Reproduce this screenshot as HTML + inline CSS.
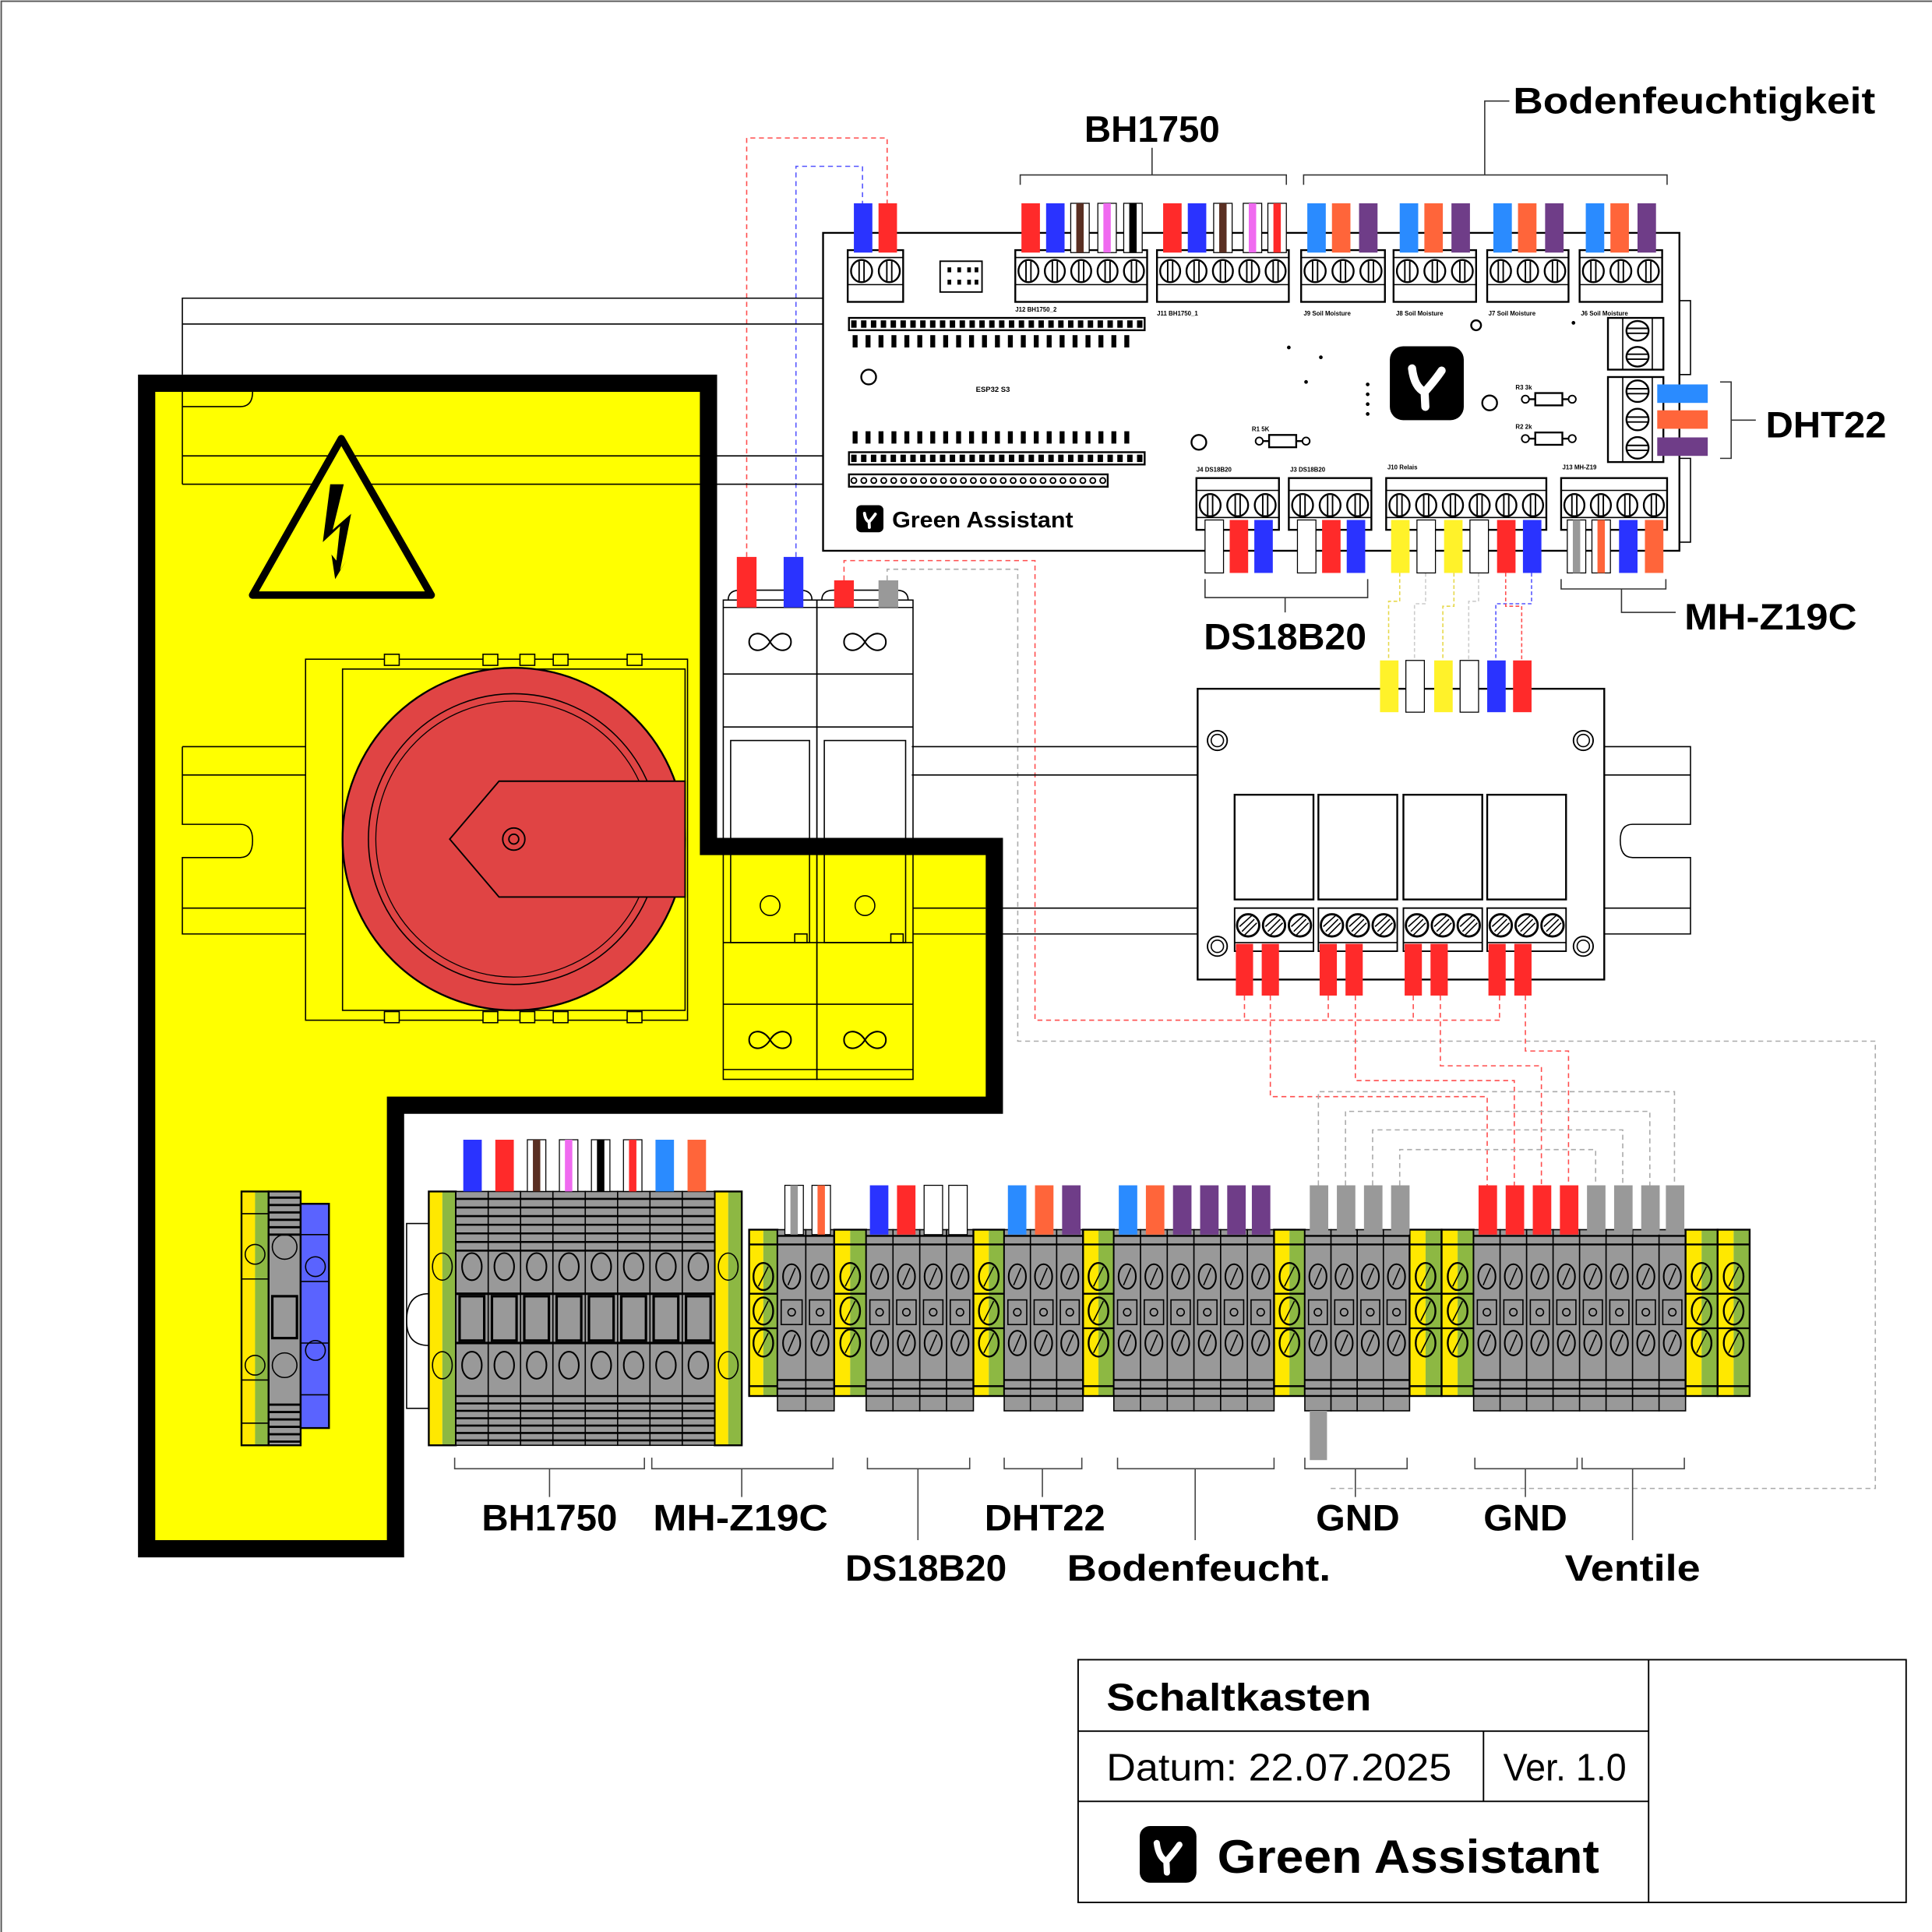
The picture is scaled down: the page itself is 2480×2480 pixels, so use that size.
<!DOCTYPE html>
<html><head><meta charset="utf-8"><style>
html,body{margin:0;padding:0;background:#fff}
svg{display:block}
text{font-family:"Liberation Sans",sans-serif;font-weight:bold;fill:#000}
</style></head><body>
<svg id="s" width="2480" height="2480" viewBox="0 0 1568 1568" xmlns="http://www.w3.org/2000/svg">
<rect x="0" y="0" width="1568" height="1568" fill="#fff"/>
<path d="M1 1568V1H1568" fill="none" stroke="#555" stroke-width="1.2"/>
<g id="g"></g>
<g id="labels">
<text x="880" y="115" font-size="30" textLength="110" lengthAdjust="spacingAndGlyphs">BH1750</text>
<text x="1228" y="92" font-size="30" textLength="294" lengthAdjust="spacingAndGlyphs">Bodenfeuchtigkeit</text>
<text x="1433" y="355" font-size="30" textLength="98" lengthAdjust="spacingAndGlyphs">DHT22</text>
<text x="977" y="527" font-size="30" textLength="132" lengthAdjust="spacingAndGlyphs">DS18B20</text>
<text x="1367" y="511" font-size="30" textLength="140" lengthAdjust="spacingAndGlyphs">MH-Z19C</text>
<text x="391" y="1242" font-size="30" textLength="110" lengthAdjust="spacingAndGlyphs">BH1750</text>
<text x="530" y="1242" font-size="30" textLength="142" lengthAdjust="spacingAndGlyphs">MH-Z19C</text>
<text x="686" y="1283" font-size="30" textLength="131" lengthAdjust="spacingAndGlyphs">DS18B20</text>
<text x="799" y="1242" font-size="30" textLength="98" lengthAdjust="spacingAndGlyphs">DHT22</text>
<text x="866" y="1283" font-size="30" textLength="214" lengthAdjust="spacingAndGlyphs">Bodenfeucht.</text>
<text x="1068" y="1242" font-size="30" textLength="68" lengthAdjust="spacingAndGlyphs">GND</text>
<text x="1204" y="1242" font-size="30" textLength="68" lengthAdjust="spacingAndGlyphs">GND</text>
<text x="1270" y="1283" font-size="30" textLength="110" lengthAdjust="spacingAndGlyphs">Ventile</text>
<text x="898" y="1388" font-size="31" textLength="215" lengthAdjust="spacingAndGlyphs">Schaltkasten</text>
<text x="898" y="1445" font-size="31" style="font-weight:normal" textLength="280" lengthAdjust="spacingAndGlyphs">Datum: 22.07.2025</text>
<text x="1220" y="1445" font-size="31" style="font-weight:normal" textLength="100" lengthAdjust="spacingAndGlyphs">Ver. 1.0</text>
<text x="988" y="1520" font-size="38" textLength="310" lengthAdjust="spacingAndGlyphs">Green Assistant</text>
<text x="724" y="428" font-size="18" textLength="147" lengthAdjust="spacingAndGlyphs">Green Assistant</text>
<text x="792" y="318" font-size="6">ESP32 S3</text>
<text x="824" y="253" font-size="5">J12  BH1750_2</text>
<text x="939" y="256" font-size="5">J11  BH1750_1</text>
<text x="1058" y="256" font-size="5">J9  Soil Moisture</text>
<text x="1133" y="256" font-size="5">J8  Soil Moisture</text>
<text x="1208" y="256" font-size="5">J7  Soil Moisture</text>
<text x="1283" y="256" font-size="5">J6  Soil Moisture</text>
<text x="971" y="383" font-size="5">J4  DS18B20</text>
<text x="1047" y="383" font-size="5">J3  DS18B20</text>
<text x="1126" y="381" font-size="5">J10  Relais</text>
<text x="1268" y="381" font-size="5">J13  MH-Z19</text>
<text x="1016" y="350" font-size="5">R1  5K</text>
<text x="1230" y="316" font-size="5">R3  3k</text>
<text x="1230" y="348" font-size="5">R2  2k</text>
</g>
</svg>
<script>
var o=[];
function R(x,y,w,h,f,s,sw,extra){o.push('<rect x="'+x+'" y="'+y+'" width="'+w+'" height="'+h+'" fill="'+(f||'none')+'" stroke="'+(s||'none')+'" stroke-width="'+(sw||1)+'" '+(extra||'')+'/>');}
function L(p,s,sw,da){o.push('<path d="'+p+'" fill="none" stroke="'+(s||'#000')+'" stroke-width="'+(sw||1)+'"'+(da?' stroke-dasharray="'+da+'"':'')+'/>');}
function C(x,y,r,f,s,sw){o.push('<circle cx="'+x+'" cy="'+y+'" r="'+r+'" fill="'+(f||'none')+'" stroke="'+(s||'#000')+'" stroke-width="'+(sw||1)+'"/>');}
function E(x,y,rx,ry,f,s,sw){o.push('<ellipse cx="'+x+'" cy="'+y+'" rx="'+rx+'" ry="'+ry+'" fill="'+(f||'none')+'" stroke="'+(s||'#000')+'" stroke-width="'+(sw||1)+'"/>');}
var COL={r:'#ff2a2a',b:'#2a33ff',lb:'#2a8bff',o:'#ff653a',p:'#6f3d88',y:'#fff22a',w:'#fff',g:'#999',br:'#5a2f22',pk:'#f06af0',k:'#000'};
function wire(x,y,w,h,c){
  if(c.indexOf(':')>0){var a=c.split(':');R(x,y,w,h,'#fff','#000',0.8);R(x+w*0.3,y,w*0.4,h,COL[a[1]]);}
  else R(x,y,w,h,COL[c],c=='w'?'#000':'none',0.8);
}
L('M606 452V112H720V165','#ff4d4d',1,'4 3');
L('M646 452V135H700V165','#5555ff',1,'4 3');
L('M685 471V455H840V828H1218','#ff4d4d',1,'4 3');
L('M720 471V462H826V845H1522V1208H1077','#aaa',1,'4 3');
[1010,1078,1147,1217].forEach(function(x){L('M'+x+' 808V828','#ff4d4d',1,'4 3');});
[[1031,890,1207],[1100,877,1229],[1169,865,1251],[1238,853,1273]].forEach(function(a){L('M'+a[0]+' 808V'+a[1]+'H'+a[2]+'V962','#ff4d4d',1,'4 3');});
[[1070,886,1359],[1092,902,1339],[1114,917,1317],[1136,933,1295]].forEach(function(a){L('M'+a[0]+' 962V'+a[1]+'H'+a[2]+'V962','#aaa',1,'4 3');});
[[1136,1127,'#e6d84a'],[1157,1148,'#ccc'],[1180,1171,'#e6d84a'],[1200,1192,'#ccc'],[1243,1214,'#5555ff'],[1222,1235,'#ff4d4d']].forEach(function(a,i){var yy=488+ (i%3)*2;L('M'+a[0]+' 465V'+yy+'H'+a[1]+'V536',a[2],1,'3 2');});
L('M148 304V242H668M148 263H668');
L('M148 318V330H195Q205 330 205 318M148 330V393M148 370H668M148 393H668');
L('M148 606H248M148 629H248M148 606V669H195Q205 669 205 682Q205 696 195 696H148V758H248M148 737H248');
L('M740 606H972M740 629H972M740 737H972M740 758H972');
L('M1302 606H1372V669H1325Q1315 669 1315 682Q1315 696 1325 696H1372V758H1302M1302 629H1372M1302 737H1372');
L('M1363 244H1372V304H1363M1363 372H1372V440H1363');
o.push('<path d="M119 311H575V687H807V897H321V1257H119Z" fill="#ffff00" stroke="#000" stroke-width="14"/>');
L('M148 318V330H195Q205 330 205 318M148 330V393M148 370H575M148 393H575');
L('M148 606H248M148 629H248M148 606V669H195Q205 669 205 682Q205 696 195 696H148V758H248M148 737H248');
L('M741 737H800M741 758H800');
o.push('<path d="M277 356L205 483H350Z" fill="#ffff00" stroke="#000" stroke-width="6" stroke-linejoin="round"/>');
o.push('<path d="M268 393H279L270 430L285 417L276 463L281 455L272 470L269 450L273 455L276 427L262 440Z" fill="#000"/>');
R(248,535,310,293,'none','#000',1);R(278,543,278,277,'none','#000',1);
[318,398,428,455,515].forEach(function(x){R(x-6,531,12,9,'#ffff00','#000',1);R(x-6,821,12,9,'#ffff00','#000',1);});
C(417,681,139,'#e04444','#000',1.5);C(417,681,118,'none','#000',1);C(417,681,112,'none','#000',0.8);
o.push('<path d="M365 681L405 634H556V728H405Z" fill="#e04444" stroke="#000" stroke-width="1.2"/>');
C(417,681,9,'none','#000',1.2);C(417,681,4,'none','#000',1.2);
[587,663].forEach(function(x){var w=(x==587?76:78);
 o.push('<path d="M'+(x+4)+' 487Q'+(x+4)+' 479 '+(x+14)+' 479H'+(x+w-14)+'Q'+(x+w-4)+' 479 '+(x+w-4)+' 487" fill="none" stroke="#000"/>');
 R(x,487,w,389,'none','#000',1);
 L('M'+x+' 493H'+(x+w)+'M'+x+' 547H'+(x+w)+'M'+x+' 590H'+(x+w)+'M'+x+' 765H'+(x+w)+'M'+x+' 815H'+(x+w)+'M'+x+' 868H'+(x+w));
 R(x+6,601,w-12,164,'none','#000',1);R(x+w-18,758,10,7,'none','#000',1);
 C(x+w/2,735,8,'none','#000',1);
 [521,844].forEach(function(cy){var cx=x+w/2;o.push('<path d="M'+cx+' '+cy+'C'+(cx-6)+' '+(cy-10)+' '+(cx-17)+' '+(cy-8)+' '+(cx-17)+' '+cy+'C'+(cx-17)+' '+(cy+8)+' '+(cx-6)+' '+(cy+10)+' '+cx+' '+cy+'C'+(cx+6)+' '+(cy-10)+' '+(cx+17)+' '+(cy-8)+' '+(cx+17)+' '+cy+'C'+(cx+17)+' '+(cy+8)+' '+(cx+6)+' '+(cy+10)+' '+cx+' '+cy+'Z" fill="none" stroke="#000" stroke-width="1.3"/>');});
});
wire(598,452,16,41,'r');wire(636,452,16,41,'b');wire(677,471,16,22,'r');wire(713,471,16,22,'g');
R(668,189,695,258,'#fff','#000',1.5);
function conn(x,y,w,n,h){R(x,y,w,h||42,'#fff','#000',1.5);L('M'+x+' '+(y+6)+'H'+(x+w)+'M'+x+' '+(y+28)+'H'+(x+w));var cw=w/n;for(var i=0;i<n;i++){var cx=x+cw*(i+0.5);E(cx,y+17,cw*0.38,9,'#fff','#000',1.5);L('M'+(cx-2)+' '+(y+9)+'V'+(y+25)+'M'+(cx+2)+' '+(y+9)+'V'+(y+25),'#000',1.2);}}
conn(688,203,45,2);R(763,212,34,25,'#fff','#000',1.2);[769,777,785,791].forEach(function(x){R(x,217,3,4,'#000');R(x,227,3,4,'#000');});
conn(824,203,107,5);conn(939,203,107,5);conn(1056,203,68,3);conn(1131,203,67,3);conn(1207,203,66,3);conn(1282,203,67,3);
wire(693,165,15,40,'b');wire(713,165,15,40,'r');
[[829,'r'],[849,'b'],[869,'w:br'],[891,'w:pk'],[912,'w:k'],[944,'r'],[964,'b'],[985,'w:br'],[1009,'w:pk'],[1029,'w:r']].forEach(function(a){wire(a[0],165,15,40,a[1]);});
[1061,1136,1212,1287].forEach(function(x){wire(x,165,15,40,'lb');wire(x+20,165,15,40,'o');wire(x+42,165,15,40,'p');});
function hdr(x,y,w,n,circ){R(x,y,w,10,'#fff','#000',1.5);for(var i=0;i<n;i++){var cx=x+4+i*(w-8)/(n-1);if(circ)C(cx,y+5,2.2,'#fff','#000',1.2);else R(cx-2.2,y+2,4.4,6,'#000');}}
hdr(689,258,240,30);hdr(689,367,240,30);hdr(689,385,210,26,true);
for(var i=0;i<22;i++){R(692+i*10.5,272,4,10,'#000');R(692+i*10.5,350,4,10,'#000');}
C(705,306,6,'#fff','#000',1.5);C(973,359,6,'#fff','#000',1.5);C(1209,327,6,'#fff','#000',1.5);C(1198,264,4,'#fff','#000',1.5);
[[1046,282],[1072,290],[1060,310],[1110,312],[1110,320],[1110,328],[1110,336],[1277,262]].forEach(function(p){C(p[0],p[1],1,'#000','#000',1);});
function res(x,y){L('M'+x+' '+y+'H'+(x+42),'#000',1.5);C(x+2,y,3,'#fff','#000',1.2);C(x+40,y,3,'#fff','#000',1.2);R(x+10,y-5,22,10,'#fff','#000',1.5);}
res(1020,358);res(1236,324);res(1236,356);
function logo(x,y,s){o.push('<rect x="'+x+'" y="'+y+'" width="'+s+'" height="'+s+'" rx="'+(s*0.18)+'" fill="#000"/>');o.push('<path d="M'+(x+s*0.3)+' '+(y+s*0.3)+'Q'+(x+s*0.33)+' '+(y+s*0.55)+' '+(x+s*0.47)+' '+(y+s*0.62)+'L'+(x+s*0.48)+' '+(y+s*0.82)+'M'+(x+s*0.47)+' '+(y+s*0.62)+'Q'+(x+s*0.62)+' '+(y+s*0.45)+' '+(x+s*0.7)+' '+(y+s*0.33)+'" fill="none" stroke="#fff" stroke-width="'+(s*0.11)+'" stroke-linecap="round"/>');}
logo(1128,281,60);logo(695,410,22);logo(925,1482,46);
function vconn(x,y,h,n){R(x,y,45,h,'#fff','#000',1.5);L('M'+(x+12)+' '+y+'V'+(y+h)+'M'+(x+36)+' '+y+'V'+(y+h));var ch=h/n;for(var i=0;i<n;i++){var cy=y+ch*(i+0.5);E(x+24,cy,9,ch*0.38,'#fff','#000',1.5);L('M'+(x+15)+' '+(cy-2)+'H'+(x+33)+'M'+(x+15)+' '+(cy+2)+'H'+(x+33),'#000',1.2);}}
vconn(1305,258,42,2);vconn(1305,306,69,3);
wire(1345,312,41,15,'lb');wire(1345,333,41,15,'o');wire(1345,355,41,15,'p');
function bconn(x,w,n){var y=388;R(x,y,w,42,'#fff','#000',1.5);L('M'+x+' '+(y+10)+'H'+(x+w)+'M'+x+' '+(y+32)+'H'+(x+w));var cw=w/n;for(var i=0;i<n;i++){var cx=x+cw*(i+0.5);E(cx,y+22,cw*0.38,9,'#fff','#000',1.5);L('M'+(cx-2)+' '+(y+14)+'V'+(y+30)+'M'+(cx+2)+' '+(y+14)+'V'+(y+30),'#000',1.2);}}
bconn(971,67,3);bconn(1046,67,3);bconn(1125,130,6);bconn(1267,86,4);
[[978,'w'],[998,'r'],[1018,'b'],[1053,'w'],[1073,'r'],[1093,'b'],[1129,'y'],[1150,'w'],[1172,'y'],[1193,'w'],[1215,'r'],[1236,'b'],[1272,'w:g'],[1292,'w:o'],[1314,'b'],[1335,'o']].forEach(function(a){wire(a[0],422,15,43,a[1]);});
L('M828 150V142H1044V150M935 142V120','#333',1);
L('M1058 150V142H1353V150M1205 142V82H1225','#333',1);
L('M1396 310H1405V372H1396M1405 341H1425','#333',1);
L('M978 470V485H1110V470M1043 485V497','#333',1);
L('M1267 470V478H1352V470M1316 478V497H1360','#333',1);
R(972,559,330,236,'#fff','#000',1.5);
[[988,601],[1285,601],[988,768],[1285,768]].forEach(function(p){C(p[0],p[1],8,'#fff','#000',1.2);C(p[0],p[1],5,'none','#000',1);});
[[1120,'y'],[1141,'w'],[1164,'y'],[1185,'w'],[1207,'b'],[1228,'r']].forEach(function(a){wire(a[0],536,15,42,a[1]);});
[1002,1070,1139,1207].forEach(function(x){R(x,645,64,85,'#fff','#000',1.5);L('M'+x+' 730H'+(x+64));R(x,737,64,35,'#fff','#000',1.2);L('M'+x+' 765H'+(x+64));for(var j=0;j<3;j++){var cx=x+11+j*21;C(cx,751,9,'#fff','#000',1.8);L('M'+(cx-5)+' '+(756)+'L'+(cx+5)+' 746M'+(cx-7)+' 752L'+(cx+3)+' 743M'+(cx-3)+' 759L'+(cx+7)+' 749','#000',1);}
 wire(x+1,766,14,42,'r');wire(x+22,766,14,42,'r');});
function yg(x,y,w,h){R(x,y,w/2,h,'#ffe800');R(x+w/2,y,w/2,h,'#8db843');R(x,y,w,h,'none','#000',1.5);}
yg(196,967,22,206);L('M196 985H218M196 1038H218M196 1120H218M196 1155H218');C(207,1018,8);C(207,1108,8);R(199,1054,16,12);R(199,1073,16,12);
R(218,967,26,206,'#999','#000',1.5);for(i=0;i<6;i++){L('M218 '+(972+i*6)+'H244','#000',1.8);L('M218 '+(1140+i*6)+'H244','#000',1.8);}C(231,1012,10,'none');C(231,1108,10,'none');R(221,1052,20,34,'#999','#000',2);
R(244,977,23,182,'#5a63ff','#000',1.5);L('M244 1002H267M244 1040H267M244 1090H267M244 1132H267');C(256,1028,8);C(256,1096,8);
R(330,993,18,150,'#fff','#000',1);L('M348 1050Q330 1050 330 1072Q330 1092 348 1092','#000',1);
yg(348,967,22,206);yg(580,967,22,206);
[359,591].forEach(function(cx){E(cx,1028,8,11);E(cx,1108,8,11);R(cx-8,1048,16,24);R(cx-8,1079,16,22);});
for(i=0;i<8;i++){var x=370+i*26.25;R(x,967,26.25,206,'#999','#000',1);E(x+13,1028,8,11,'none','#000',1.3);E(x+13,1108,8,11,'none','#000',1.3);R(x+3,1052,20,36,'#999','#000',2);
 for(var k=0;k<7;k++){L('M'+x+' '+(973+k*7)+'H'+(x+26),'#000',1.6);L('M'+x+' '+(1133+k*6)+'H'+(x+26),'#000',1.6);}}
L('M370 1050H580M370 1090H580','#000',2);
[['b'],['r'],['w:br'],['w:pk'],['w:k'],['w:r'],['lb'],['o']].forEach(function(a,i){wire(376+i*26,925,15,42,a[0]);});
function ygc(x,w){yg(x,998,w,135);L('M'+x+' 1010H'+(x+w)+'M'+x+' 1125H'+(x+w),'#000',1.5);[1036,1064,1090].forEach(function(cy){E(x+w/2,cy,8,11,'none','#000',1.5);L('M'+(x+w/2-4)+' '+(cy+8)+'L'+(x+w/2+4)+' '+(cy-8));});L('M'+x+' 1050H'+(x+w)+'M'+x+' 1078H'+(x+w),'#000',1.5);}
function gc(x,w){R(x,998,w,147,'#999','#000',1);L('M'+x+' 1003H'+(x+w)+'M'+x+' 1010H'+(x+w)+'M'+x+' 1120H'+(x+w)+'M'+x+' 1127H'+(x+w)+'M'+x+' 1133H'+(x+w),'#000',1.5);
 [1036,1090].forEach(function(cy){E(x+w/2,cy,7,10,'none','#000',1.3);L('M'+(x+w/2-3)+' '+(cy+7)+'L'+(x+w/2+3)+' '+(cy-7));});R(x+3,1055,w-6,20,'#999','#000',1);C(x+w/2,1065,3,'none');}
ygc(608,23);gc(631,23);gc(654,23);ygc(677,26);
for(i=0;i<4;i++)gc(703+i*21.75,21.75);ygc(790,25);
for(i=0;i<3;i++)gc(815+i*21.3,21.3);ygc(879,25);
for(i=0;i<6;i++)gc(904+i*21.67,21.67);ygc(1034,25);
for(i=0;i<4;i++)gc(1059+i*21.25,21.25);ygc(1144,26);ygc(1170,26);
for(i=0;i<8;i++)gc(1196+i*21.5,21.5);ygc(1368,26);ygc(1394,26);
R(1063,1145,14,40,'#999');
[[637,'w:g'],[659,'w:o'],[706,'b'],[728,'r'],[750,'w'],[770,'w'],[818,'lb'],[840,'o'],[862,'p'],[908,'lb'],[930,'o'],[952,'p'],[974,'p'],[996,'p'],[1016,'p'],[1063,'g'],[1085,'g'],[1107,'g'],[1129,'g'],[1200,'r'],[1222,'r'],[1244,'r'],[1266,'r'],[1288,'g'],[1310,'g'],[1332,'g'],[1352,'g']].forEach(function(a){wire(a[0],962,15,40,a[1]);});
[[369,523,446,1215],[529,676,602,1215],[704,787,745,1250],[815,878,846,1215],[907,1034,970,1250],[1059,1142,1100,1215],[1197,1280,1238,1215],[1284,1367,1325,1250]].forEach(function(b){L('M'+b[0]+' 1183V1192H'+b[1]+'V1183M'+b[2]+' 1192V'+b[3],'#444',1);});
R(875,1347,672,197,'none','#000',1.2);L('M875 1405H1338M875 1462H1338M1338 1347V1544M1204 1405V1462','#000',1.2);
document.getElementById('g').innerHTML=o.join('');
</script>
</body></html>
